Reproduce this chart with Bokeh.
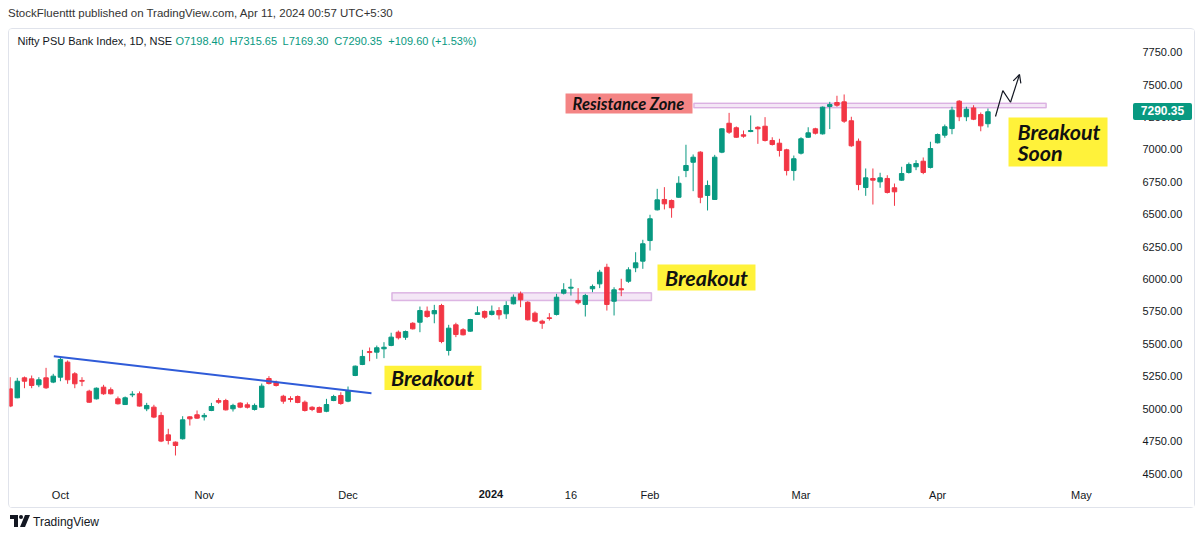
from bokeh.plotting import figure
from bokeh.models import (Range1d, FixedTicker, Label, BoxAnnotation, Arrow, OpenHead,
                          ColumnDataSource, Div, NumeralTickFormatter)
from bokeh.layouts import column
from bokeh.embed import file_html
from bokeh.resources import INLINE

# ---------------- data (daily OHLC, 21 Sep 2023 .. 10 Apr 2024, bar index) ----------------
opens = [5153, 5084, 5238, 5230, 5184, 5238, 5205, 5243, 5359, 5269,
         5218, 5135, 5076, 5166, 5146, 5076, 5032, 5107, 5115, 4999,
         5012, 4948, 4798, 4742, 4768, 4937, 4953, 4937, 4986, 5063,
         5063, 4999, 5043, 5030, 4994, 5011, 5233, 5204, 5096, 5078,
         5094, 5050, 5011, 5009, 4980, 5063, 5102, 5058, 5256, 5341,
         5441, 5436, 5462, 5488, 5590, 5551, 5659, 5667, 5752, 5732,
         5796, 5449, 5647, 5609, 5598, 5727, 5750, 5727, 5757, 5732,
         5809, 5886, 5821, 5737, 5675, 5701, 5727, 5891, 5930, 5835,
         5804, 5925, 5963, 6091, 5829, 5925, 5983, 6087, 6138, 6297,
         6534, 6614, 6606, 6631, 6837, 6901, 6979, 6645, 6614, 6979,
         7202, 7167, 7113, 7138, 7171, 7179, 7069, 7048, 6997, 6837,
         6971, 7094, 7159, 7120, 7331, 7362, 7367, 7221, 7063, 6706,
         6776, 6750, 6776, 6704, 6763, 6822, 6866, 6909, 6861, 7051,
         7110, 7161, 7372, 7252, 7320, 7269, 7198.40]
highs = [5243, 5238, 5248, 5256, 5243, 5315, 5269, 5392, 5372, 5282,
         5243, 5146, 5164, 5184, 5164, 5094, 5094, 5135, 5133, 5045,
         5030, 4973, 4845, 4747, 4942, 4942, 4986, 4966, 5045, 5081,
         5076, 5038, 5050, 5048, 5040, 5194, 5251, 5217, 5107, 5096,
         5102, 5063, 5019, 5017, 5076, 5107, 5127, 5171, 5333, 5454,
         5472, 5487, 5513, 5586, 5603, 5603, 5667, 5788, 5788, 5801,
         5809, 5647, 5663, 5621, 5693, 5790, 5757, 5796, 5783, 5829,
         5881, 5904, 5829, 5750, 5686, 5737, 5886, 5968, 6002, 5930,
         5886, 5958, 6071, 6118, 5937, 6002, 6091, 6207, 6303, 6496,
         6696, 6709, 6614, 6793, 7036, 6961, 6986, 6760, 6958, 7164,
         7282, 7177, 7146, 7262, 7179, 7249, 7094, 7082, 7005, 6953,
         7094, 7171, 7167, 7331, 7367, 7414, 7424, 7252, 7084, 6853,
         6853, 6820, 6801, 6737, 6866, 6899, 6917, 6938, 7059, 7123,
         7192, 7329, 7380, 7329, 7341, 7285, 7315.65]
lows = [5012, 5081, 5158, 5158, 5166, 5153, 5197, 5212, 5192, 5158,
        5174, 5045, 5071, 5107, 5110, 5032, 5030, 5089, 5017, 4981,
        4927, 4742, 4724, 4639, 4762, 4870, 4922, 4909, 4981, 5038,
        4986, 4978, 5004, 5001, 4986, 5009, 5187, 5171, 5038, 5050,
        5042, 4978, 4981, 4968, 4973, 5058, 5030, 5050, 5251, 5336,
        5366, 5385, 5390, 5482, 5534, 5531, 5611, 5590, 5701, 5659,
        5505, 5410, 5552, 5565, 5593, 5724, 5693, 5719, 5688, 5693,
        5804, 5783, 5680, 5667, 5616, 5680, 5719, 5881, 5873, 5804,
        5711, 5899, 5930, 5757, 5719, 5868, 5971, 6053, 6079, 6220,
        6529, 6537, 6473, 6627, 6786, 6678, 6585, 6529, 6611, 6971,
        7120, 7090, 7090, 7133, 7043, 7061, 7030, 6945, 6799, 6760,
        6961, 7090, 7115, 7115, 7157, 7329, 7205, 7020, 6685, 6642,
        6575, 6704, 6660, 6565, 6758, 6814, 6840, 6809, 6853, 7046,
        7090, 7117, 7218, 7218, 7226, 7140, 7169.30]
closes = [5020, 5212, 5212, 5179, 5223, 5161, 5251, 5380, 5223, 5192,
          5212, 5050, 5158, 5115, 5115, 5038, 5084, 5112, 5020, 5025,
          4935, 4750, 4755, 4716, 4914, 4922, 4927, 4948, 5017, 5050,
          4991, 5025, 5012, 5011, 5025, 5174, 5194, 5179, 5058, 5071,
          5048, 4986, 4994, 4972, 5032, 5094, 5040, 5140, 5328, 5403,
          5433, 5470, 5474, 5552, 5547, 5595, 5616, 5757, 5711, 5757,
          5518, 5621, 5572, 5570, 5688, 5740, 5706, 5752, 5724, 5796,
          5860, 5840, 5686, 5675, 5659, 5696, 5860, 5917, 5937, 5817,
          5873, 5943, 6053, 5804, 5917, 5917, 6071, 6125, 6272, 6465,
          6611, 6580, 6550, 6739, 6876, 6940, 6631, 6722, 6940, 7159,
          7133, 7094, 7102, 7146, 7159, 7069, 7038, 6992, 6837, 6928,
          7082, 7128, 7125, 7326, 7346, 7341, 7218, 7028, 6729, 6781,
          6763, 6781, 6668, 6673, 6814, 6884, 6891, 6822, 7007, 7115,
          7175, 7303, 7252, 7310, 7233, 7182, 7290.35]

# time-axis labels (bar index -> label)
x_tick_pos = [7, 27, 47, 67, 78, 89, 110, 129, 149]
x_tick_labels = ["Oct", "Nov", "Dec", "2024", "16", "Feb", "Mar", "Apr", "May"]
price_ticks = [4500, 4750, 5000, 5250, 5500, 5750, 6000, 6250, 6500, 6750, 7000, 7250, 7500, 7750]

# drawings (bar index, price)
trend_x = [6.08, 50.26]
trend_y = [5405, 5119]
zone1 = dict(left=53.1, right=89.2, bottom=5835, top=5894)
zone2 = dict(left=95.1, right=144.1, bottom=7321, top=7357)
arrow_x = [137.05, 138.07, 139.14, 140.39]
arrow_y = [7254, 7454, 7364, 7578]

last_ohlc = ("O7198.40", "H7315.65", "L7169.30", "C7290.35", "+109.60 (+1.53%)")

GREEN = "#089981"
RED = "#f23645"
TXT = "#131722"
SANS = "Liberation Sans"
NOTE = "Lato"

n = len(opens)
idx = list(range(n))
colors = [GREEN if c >= o else RED for o, c in zip(opens, closes)]
src = ColumnDataSource(dict(
    x=idx, h=highs, l=lows,
    top=[max(o, c) for o, c in zip(opens, closes)],
    bottom=[min(o, c) for o, c in zip(opens, closes)],
    color=colors))

HEADER_H = 28
FIG_LEFT = 8
FW, FH = 1187, 480
X0, X1 = -0.083, 155.27
Y0, Y1 = 4422.9, 7925.1
FRAME_W, FRAME_H = 1117, 454
p = figure(width=FW, height=FH, output_backend="svg", toolbar_location=None,
           x_range=Range1d(X0, X1), y_range=Range1d(Y0, Y1),
           y_axis_location="right",
           min_border_left=0, min_border_right=FW - FRAME_W, min_border_top=0,
           min_border_bottom=FH - FRAME_H,
           margin=(0, 0, 0, FIG_LEFT),
           styles={"border": "1px solid #e0e3eb", "border-radius": "4px"})
p.outline_line_color = None
p.xgrid.visible = False
p.ygrid.visible = False
p.background_fill_color = "white"
p.border_fill_color = "white"

# axes
ya = p.yaxis[0]
ya.ticker = FixedTicker(ticks=price_ticks)
ya.formatter = NumeralTickFormatter(format="0.00")
ya.axis_line_color = None
ya.major_tick_line_color = None
ya.minor_tick_line_color = None
ya.major_tick_out = 0
ya.minor_tick_out = 0
ya.major_label_standoff = 16
ya.major_label_text_font = SANS
ya.major_label_text_font_size = "11px"
ya.major_label_text_color = TXT

xa = p.xaxis[0]
xa.ticker = FixedTicker(ticks=x_tick_pos)
xa.major_label_overrides = {t: l for t, l in zip(x_tick_pos, x_tick_labels)}
xa.axis_line_color = None
xa.major_tick_line_color = None
xa.minor_tick_line_color = None
xa.major_tick_out = 0
xa.minor_tick_out = 0
xa.major_label_standoff = 5
xa.major_label_text_font = SANS
xa.major_label_text_font_size = "11px"
xa.major_label_text_color = TXT

# page position of a data point (for the overlays drawn on the scales)
def page_x(xv):
    return FIG_LEFT + 1 + (xv - X0) / (X1 - X0) * FRAME_W

def page_y(yv):
    return HEADER_H + 1 + (Y1 - yv) / (Y1 - Y0) * FRAME_H

# zones
for z in (zone1, zone2):
    p.add_layout(BoxAnnotation(left=z["left"], right=z["right"], bottom=z["bottom"], top=z["top"],
                               fill_color="#9c27b0", fill_alpha=0.11,
                               line_color="#9c27b0", line_width=1.5, level="underlay"))

# candles
p.segment(x0="x", y0="h", x1="x", y1="l", line_color="color", line_width=1, source=src)
p.vbar(x="x", width=0.62, top="top", bottom="bottom", fill_color="color",
       line_color="color", line_width=1, source=src)

# trend line
p.line(trend_x, trend_y, line_color="#2f5bd8", line_width=2)

# zigzag arrow
p.line(arrow_x[:3], arrow_y[:3], line_color="#131722", line_width=1.2)
p.add_layout(Arrow(x_start=arrow_x[2], y_start=arrow_y[2], x_end=arrow_x[3], y_end=arrow_y[3],
                   line_color="#131722", line_width=1.2,
                   end=OpenHead(size=8, line_color="#131722", line_width=1.2)))

# note boxes
YEL = "#fff23a"
boxes = [
    dict(left=52.07, right=65.56, bottom=5144, top=5332, color=YEL),
    dict(left=90.04, right=103.67, bottom=5912, top=6112, color=YEL),
    dict(left=138.86, right=152.63, bottom=6868, top=7246, color=YEL),
    dict(left=77.25, right=94.91, bottom=7277, top=7431, color="#f48484"),
]
for b in boxes:
    p.add_layout(BoxAnnotation(left=b["left"], right=b["right"], bottom=b["bottom"], top=b["top"],
                               fill_color=b["color"], fill_alpha=1, line_color=None))

def note(x, y, text, size="21.5px", align="center"):
    p.add_layout(Label(x=x, y=y, text=text, text_align=align, text_baseline="middle",
                       text_font=NOTE, text_font_size=size, text_font_style="bold italic",
                       text_color="#111111"))

note(58.75, 5240, "Breakout")
note(96.85, 6012, "Breakout")
note(140.1, 7131, "Breakout", align="left")
note(140.1, 6976, "Soon", align="left")
note(86.0, 7354, "Resistance Zone", size="16.5px")

# legend line
p.add_layout(Label(x=1.03, y=7840, text="Nifty PSU Bank Index, 1D, NSE", text_baseline="middle",
                   text_font=SANS, text_font_size="11px", text_color=TXT))
for xx, t in zip([23.0, 30.5, 37.9, 45.1, 52.6], last_ohlc):
    p.add_layout(Label(x=xx, y=7840, text=t, text_baseline="middle",
                       text_font=SANS, text_font_size="11px", text_color=GREEN))

header = Div(text="StockFluenttt published on TradingView.com, Apr 11, 2024 00:57 UTC+5:30",
             width=1200, height=HEADER_H, margin=0,
             styles={"font-family": SANS, "font-size": "11.5px", "color": "#333333",
                     "line-height": "26px", "padding-left": "8px"})
logo = ("<svg width='20' height='12' viewBox='0 0 20 12' style='vertical-align:-1px'>"
        "<path d='M0 0h8v12h-4v-8h-4z' fill='#131722'/>"
        "<circle cx='11' cy='2' r='2' fill='#131722'/>"
        "<path d='M15 0h5l-5 12h-5z' fill='#131722'/></svg>")
footer = Div(text=logo + "<span style='margin-left:3px'>TradingView</span>",
             width=1200, height=30, margin=0,
             styles={"font-family": SANS, "font-size": "12px", "color": "#131722",
                     "line-height": "28px", "padding-left": "10px"})

# last-price tag on the price scale and bold year on the time scale (HTML overlays)
tag_top = page_y(closes[-1]) - 8.5
price_tag = Div(text=f"{closes[-1]:.2f}", width=59, height=17, margin=0,
                styles={"position": "absolute", "left": f"{page_x(X1) + 7:.0f}px",
                        "top": f"{tag_top:.0f}px", "z-index": "10",
                        "background-color": GREEN, "color": "white",
                        "font-family": SANS, "font-size": "12px", "font-weight": "bold",
                        "line-height": "17px", "text-align": "center", "border-radius": "2px"})
year_x = page_x(x_tick_pos[x_tick_labels.index("2024")])
year_lbl = Div(text="2024", width=36, height=16, margin=0,
               styles={"position": "absolute", "left": f"{year_x - 18:.0f}px",
                       "top": f"{HEADER_H + 1 + FRAME_H + 3}px", "z-index": "10",
                       "background-color": "white", "color": TXT,
                       "font-family": SANS, "font-size": "11px", "font-weight": "bold",
                       "line-height": "16px", "text-align": "center"})

layout = column(header, p, footer, price_tag, year_lbl, spacing=0)
open("out.html", "w").write(file_html(layout, INLINE))
